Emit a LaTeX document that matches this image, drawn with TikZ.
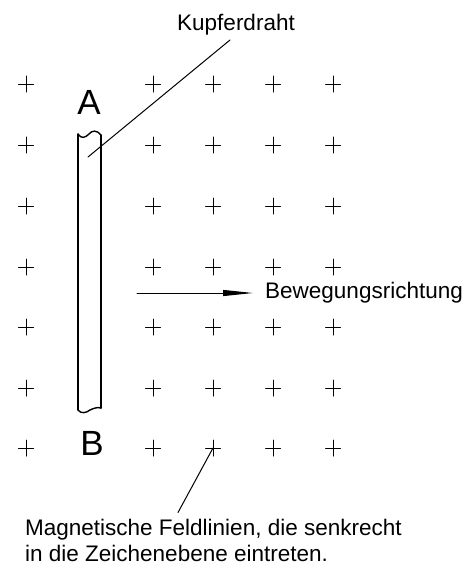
\documentclass[tikz,border=0pt]{standalone}
\usepackage{fontspec}
\setmainfont{Liberation Sans}
\usetikzlibrary{arrows.meta}
\begin{document}
\begin{tikzpicture}[x=1pt,y=-1pt,line cap=round,
  lbl/.style={font=\fontsize{22.5}{26}\selectfont,inner sep=0pt},
  bigletter/.style={font=\fontsize{35}{40}\selectfont,inner sep=0pt},
  plusline/.style={line width=1pt},
  leader/.style={line width=1pt},
  wire/.style={line width=1.4pt,line join=round}]
\useasboundingbox (0,0) rectangle (476,570);
% field marks (crosses)
\foreach \c [count=\i] in {26,153,213,273,333}{
  \foreach \r [count=\j] in {84,145,206,267,327,388,448}{
    \coordinate (p\i\j) at (\c,\r);
    \draw[plusline] ([xshift=-7.5pt]p\i\j) -- ([xshift=7.5pt]p\i\j)
                    ([yshift=-8pt]p\i\j) -- ([yshift=8pt]p\i\j);
  }
}
% copper wire
\draw[wire] (78,134) .. controls (81,139) and (85,138) .. (89,134)
            .. controls (92,130) and (97,130) .. (101,135);
\draw[wire] (78,134) -- (78,410);
\draw[wire,line width=2pt] (101,135) -- (101,408);
\draw[wire] (78,410) .. controls (81,414) and (86,413) .. (90,410)
            .. controls (94,408) and (98,407) .. (101,408);
\coordinate (kw) at (88,157);
\coordinate (ms) at (137,293);
% letters
\node[bigletter] (A) at (89,102) {A};
\node[bigletter] (B) at (92,443) {B};
% labels
\node[lbl,anchor=base] (kupf) at (236,30) {Kupferdraht};
\draw[leader] ([xshift=-6pt,yshift=-10pt]kupf.base) -- (kw);
\node[lbl,anchor=west] (bew) at (265,293) {Bewegungsrichtung};
\draw[leader,-{Triangle[length=30pt,width=6pt]}] (ms) -- ([xshift=-12pt]bew.west);
\node[lbl,align=left,anchor=north west] (mag) at (25,518.5)
  {Magnetische Feldlinien, die senkrecht\\in die Zeichenebene eintreten.};
\draw[leader] ([xshift=153pt,yshift=6pt]mag.north west) -- (p37);
\end{tikzpicture}
\end{document}
